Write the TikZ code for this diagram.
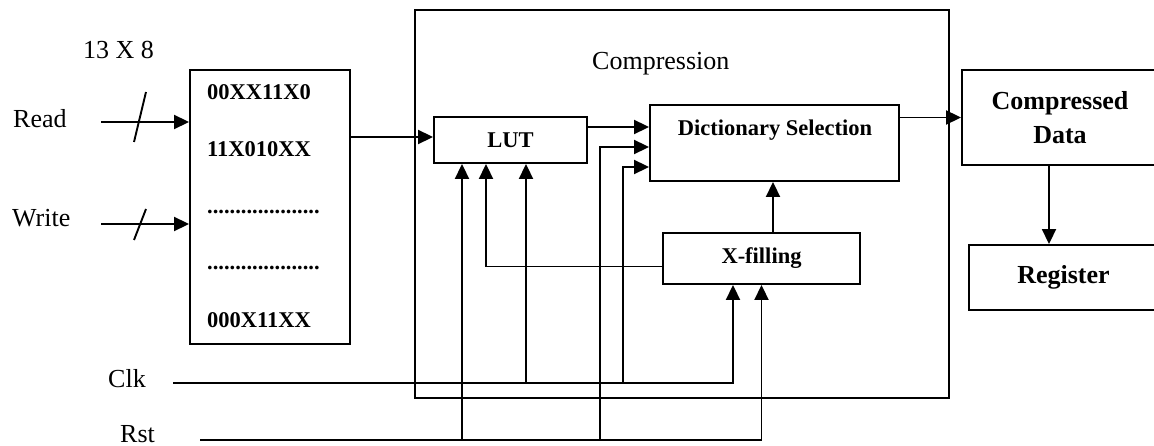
\documentclass[tikz,border=0pt]{standalone}
\usepackage{fontspec}
\setmainfont{Liberation Serif}
\usetikzlibrary{arrows.meta, positioning, calc}

\begin{document}
\begin{tikzpicture}[x=1pt, y=-1pt,
    blk/.style={draw, line width=1.9pt, inner sep=0pt, font=\fontsize{22.5}{26}\selectfont\bfseries},
    bigblk/.style={blk, align=center, font=\fontsize{26}{34}\selectfont\bfseries},
    lbl/.style={inner sep=0pt, anchor=base west, font=\fontsize{26}{30}\selectfont},
    row/.style={inner sep=0pt, anchor=base west, font=\fontsize{22.5}{26}\selectfont\bfseries},
    wire/.style={line width=1.9pt},
    arrow/.style={wire, -{Triangle[length=15pt, width=14pt]}}
  ]
  \useasboundingbox (0,0) rectangle (1154,446);

  \node[blk, minimum width=160pt, minimum height=274pt] (mem) at (270,207) {};
  \node[row] (row1) at (207,100) {00XX11X0};
  \node[row] (row2) at (207,157) {11X010XX};
  \node[row] (row3) at (207,214) {....................};
  \node[row] (row4) at (207,270) {....................};
  \node[row] (row5) at (207,327) {000X11XX};

  \node[lbl] (size) at (83,59) {13 X 8};
  \node[lbl] (read) at (13,128) {Read};
  \node[lbl] (write) at (12,227) {Write};
  \node[lbl] (clk) at (108,387) {Clk};
  \node[lbl] (rst) at (120,442) {Rst};

  \node[blk, minimum width=534pt, minimum height=388pt] (comp) at (682,204) {};
  \node[lbl] (comptitle) at (592,70) {Compression};

  \node[blk, minimum width=153pt, minimum height=46pt] (lut) at (510.5,140) {LUT};
  \node[blk, minimum width=249pt, minimum height=76pt] (dict) at (774.5,143) {};
  \node[row, anchor=base] (dicttext) at (775,136) {Dictionary Selection};
  \node[blk, minimum width=197pt, minimum height=51pt] (xfill) at (761.5,258.5) {X-filling};

  \node[bigblk, minimum width=196pt, minimum height=95pt] (cdata) at (1060,117.5) {Compressed\\Data};
  \node[bigblk, minimum width=189pt, minimum height=65pt] (reg) at (1063.5,277.5) {Register};

  \coordinate (readin) at (101,122);
  \coordinate (writein) at (101,224);
  \coordinate (clkin) at (173,383);
  \coordinate (rstin) at (200,440);
  \coordinate (clktap) at (623,383);
  \coordinate (rsttap) at (600,440);
  \coordinate (lutin) at ([yshift=3pt]lut.west);
  \coordinate (lutrst) at ([xshift=-48.5pt]lut.south);
  \coordinate (lutfb) at ([xshift=-24.5pt]lut.south);
  \coordinate (lutclk) at ([xshift=15.5pt]lut.south);

  \draw[arrow] (readin) -- (readin -| mem.west);
  \draw[wire] ($(readin)+(33,20)$) -- ++(12,-50);
  \draw[arrow] (writein) -- (writein -| mem.west);
  \draw[wire] ($(writein)+(33,16)$) -- ++(12,-31);

  \draw[arrow] (mem.east |- lutin) -- (lutin);
  \draw[arrow] ([yshift=13pt]lut.east) -- ([yshift=13pt]lut.east -| dict.west);
  \draw[arrow] (rsttap) |- ([yshift=-4pt]dict.west);
  \draw[arrow] (clktap) |- ([yshift=-24pt]dict.west);
  \draw[arrow] ([yshift=-8pt]xfill.west) -| (lutfb);
  \draw[arrow] ([xshift=11.5pt]xfill.north) -- ([xshift=11.5pt]xfill.north |- dict.south);

  \draw[arrow] (clkin) -| ([xshift=-28.5pt]xfill.south);
  \draw[arrow] (rstin) -| (xfill.south);
  \draw[arrow] (clkin -| lutclk) -- (lutclk);
  \draw[arrow] (rstin -| lutrst) -- (lutrst);

  \draw[arrow] (dict.east |- cdata.west) -- (cdata.west);
  \draw[arrow] ([xshift=-11pt]cdata.south) -- ([xshift=-11pt]cdata.south |- reg.north);
\end{tikzpicture}
\end{document}
